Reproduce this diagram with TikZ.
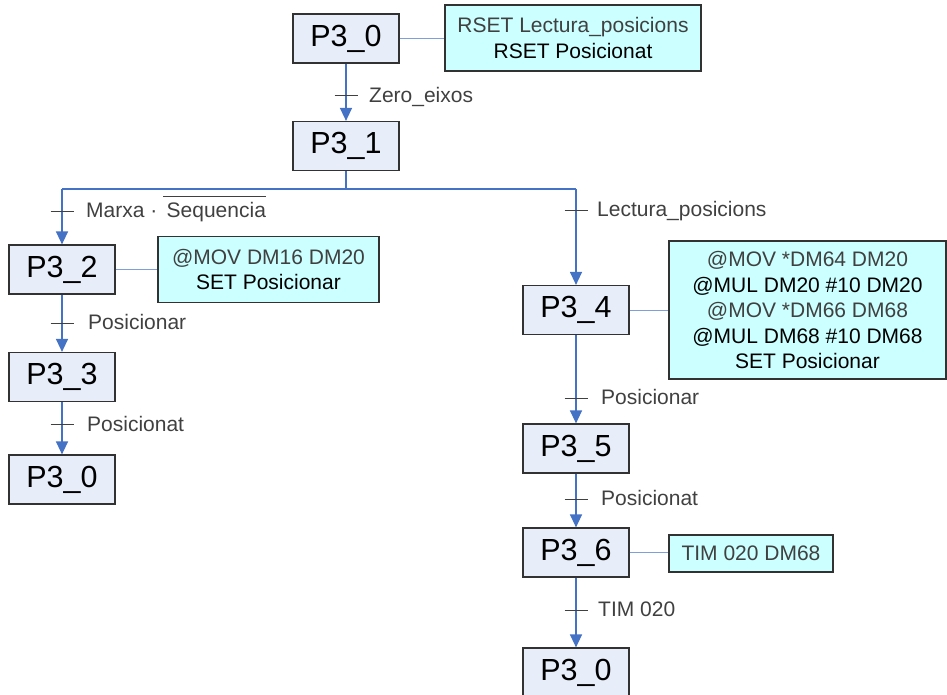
\documentclass[tikz,border=0pt]{standalone}
\usepackage{fontspec}
\setmainfont{Liberation Sans}
\usetikzlibrary{arrows.meta,calc}
\definecolor{stepfill}{RGB}{231,237,249}
\definecolor{actfill}{RGB}{204,255,255}
\definecolor{flowblue}{RGB}{68,114,196}
\definecolor{linkblue}{RGB}{127,159,216}
\definecolor{txtgray}{RGB}{64,64,64}
\definecolor{edgegray}{RGB}{50,50,50}
\begin{document}
\begin{tikzpicture}[x=1pt,y=-1pt,
  stepbox/.style={draw=edgegray,line width=1.2pt,fill=stepfill,minimum width=106pt,minimum height=49pt,inner sep=0pt,font=\fontsize{30.5}{36}\selectfont},
  actbox/.style={draw=edgegray,line width=1.2pt,fill=actfill,inner sep=0pt,align=center,font=\fontsize{21}{25.5}\selectfont},
  flow/.style={draw=flowblue,line width=1.3pt,-{Triangle[length=13pt,width=12pt]}},
  flowline/.style={draw=flowblue,line width=1.3pt},
  link/.style={draw=linkblue,line width=1pt},
  tick/.style={draw=txtgray,line width=1pt},
  cond/.style={anchor=base west,inner sep=0pt,text=txtgray,font=\fontsize{21}{25}\selectfont}]
\useasboundingbox (0,0) rectangle (947,695);

% steps
\node[stepbox] (s0) at (346,38.5) {P3\_0};
\node[stepbox] (s1) at (346,146) {P3\_1};
\node[stepbox] (s2) at (62,269.5) {P3\_2};
\node[stepbox] (s3) at (62,377) {P3\_3};
\node[stepbox] (s0l) at (62,479.5) {P3\_0};
\node[stepbox] (s4) at (576,310) {P3\_4};
\node[stepbox] (s5) at (576,448.5) {P3\_5};
\node[stepbox] (s6) at (576,552.5) {P3\_6};
\node[stepbox] (s0r) at (576,672.5) {P3\_0};

% actions
\node[actbox,minimum width=256pt,minimum height=66pt] (a0) at (573,38)
  {\textcolor{txtgray}{RSET Lectura\_posicions}\\RSET Posicionat};
\node[actbox,minimum width=221pt,minimum height=66pt] (a2) at (268.5,269.5)
  {\textcolor{txtgray}{@MOV DM16 DM20}\\SET Posicionar};
\node[actbox,minimum width=277pt,minimum height=138pt] (a4) at (807.5,310)
  {\textcolor{txtgray}{@MOV *DM64 DM20}\\@MUL DM20 \#10 DM20\\\textcolor{txtgray}{@MOV *DM66 DM68}\\@MUL DM68 \#10 DM68\\SET Posicionar};
\node[actbox,minimum width=164pt,minimum height=37pt,text=txtgray] (a6) at (751,553.5)
  {TIM 020 DM68};

% step-to-action links
\draw[link] (s0.east) -- (s0.east -| a0.west);
\draw[link] (s2.east) -- (s2.east -| a2.west);
\draw[link] (s4.east) -- (s4.east -| a4.west);
\draw[link] (s6.east) -- (s6.east -| a6.west);

% divergence after P3_1
\coordinate (br) at (346,189);
\coordinate (brl) at (62,189);
\coordinate (brr) at (576,189);
\draw[flowline] (s1.south) -- (br);
\draw[flowline] (brl) -- (brr);
\draw[flow] (brl) -- (s2.north);
\draw[flow] (brr) -- (s4.north);

% transitions
\draw[flow] (s0.south) -- (s1.north);
\draw[flow] (s2.south) -- (s3.north);
\draw[flow] (s3.south) -- (s0l.north);
\draw[flow] (s4.south) -- (s5.north);
\draw[flow] (s5.south) -- (s6.north);
\draw[flow] (s6.south) -- (s0r.north);

% transition bars
\draw[tick] (334.5,96) -- ++(23,0);
\draw[tick] (50.5,211.5) -- ++(23,0);
\draw[tick] (50.5,323) -- ++(23,0);
\draw[tick] (50.5,424.5) -- ++(23,0);
\draw[tick] (564.5,210) -- ++(23,0);
\draw[tick] (564.5,398) -- ++(23,0);
\draw[tick] (564.5,499) -- ++(23,0);
\draw[tick] (564.5,610) -- ++(23,0);

% receptivities
\node[cond] (c0) at (369,102.5) {Zero\_eixos};
\node[cond] (c1) at (86,218) {Marxa · $\overline{\mbox{\rule{0pt}{20pt}\,Sequencia}}$};
\node[cond] (c2) at (88,329.5) {Posicionar};
\node[cond] (c3) at (87,431) {Posicionat};
\node[cond] (c4) at (597,216.5) {Lectura\_posicions};
\node[cond] (c5) at (601,404.5) {Posicionar};
\node[cond] (c6) at (601,505.5) {Posicionat};
\node[cond] (c7) at (598,616.5) {TIM 020};
\end{tikzpicture}
\end{document}
